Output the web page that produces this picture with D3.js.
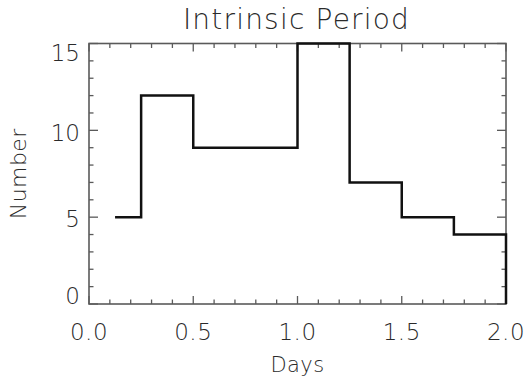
<!DOCTYPE html>
<html><head><meta charset="utf-8">
<script src="https://cdn.jsdelivr.net/npm/d3@7"></script>
<style>body{margin:0;background:#fff}svg{display:block}text{font-family:"DejaVu Sans",sans-serif;font-weight:200;fill:#2a2a2a}</style>
</head><body><svg id="c" width="525" height="380"></svg>
<script>
const binStart = [0.125, 0.25, 0.5, 0.75, 1.0, 1.25, 1.5, 1.75];
const binEnd   = [0.25, 0.5, 0.75, 1.0, 1.25, 1.5, 1.75, 2.0];
const counts   = [5, 12, 9, 9, 15, 7, 5, 4];
const xTicks = [0, 0.5, 1.0, 1.5, 2.0];
const xTickLabels = ["0.0", "0.5", "1.0", "1.5", "2.0"];
const yTicks = [0, 5, 10, 15];
const yTickLabels = ["0", "5", "10", "15"];
const title = "Intrinsic Period", xTitle = "Days", yTitle = "Number";

const L = 89, R = 506, T = 43.5, B = 304;
const svg = d3.select("#c");
const x = d3.scaleLinear().domain([0, 2]).range([L, R]);
const y = d3.scaleLinear().domain([0, 15]).range([B, T]);

const axisColor = "#5a5a5a";
const g = svg.append("g");
const xMinor = d3.range(0, 2.0001, 0.1);
const yMinor = d3.range(0, 15.0001, 1);
function isMajor(v, list){ return list.some(t => Math.abs(t - v) < 1e-6); }
xMinor.forEach(v => {
  const len = isMajor(v, xTicks) ? 8 : 4.5;
  g.append("line").attr("x1", x(v)).attr("x2", x(v)).attr("y1", B).attr("y2", B - len).attr("stroke", axisColor).attr("stroke-width", 1.3);
  g.append("line").attr("x1", x(v)).attr("x2", x(v)).attr("y1", T).attr("y2", T + len).attr("stroke", axisColor).attr("stroke-width", 1.3);
});
yMinor.forEach(v => {
  const len = isMajor(v, yTicks) ? 9 : 4.5;
  g.append("line").attr("y1", y(v)).attr("y2", y(v)).attr("x1", L).attr("x2", L + len).attr("stroke", axisColor).attr("stroke-width", 1.3);
  g.append("line").attr("y1", y(v)).attr("y2", y(v)).attr("x1", R).attr("x2", R - len).attr("stroke", axisColor).attr("stroke-width", 1.3);
});
g.append("rect").attr("x", L).attr("y", T).attr("width", R - L).attr("height", B - T)
  .attr("fill", "none").attr("stroke", axisColor).attr("stroke-width", 1.6);

xTicks.forEach((v, i) => {
  svg.append("text").attr("x", x(v)).attr("y", 340).attr("text-anchor", "middle")
    .attr("font-size", 23).attr("letter-spacing", 0.5).text(xTickLabels[i]);
});
yTicks.forEach((v, i) => {
  let cy = y(v) + 2;
  cy = Math.max(T + 9, Math.min(B - 8.5, cy));
  svg.append("text").attr("x", 80).attr("y", cy).attr("dy", "0.36em").attr("text-anchor", "end")
    .attr("font-size", 23).text(yTickLabels[i]);
});

const pts = [];
counts.forEach((c, i) => { pts.push([binStart[i], c]); pts.push([binEnd[i], c]); });
pts.push([binEnd[binEnd.length - 1], 0]);
svg.append("path").attr("d", d3.line().x(d => x(d[0])).y(d => y(d[1]))(pts))
  .attr("fill", "none").attr("stroke", "#111").attr("stroke-width", 2.5).attr("stroke-linejoin", "miter");

svg.append("text").attr("x", (L + R) / 2 - 1).attr("y", 29).attr("text-anchor", "middle")
  .attr("font-size", 28).attr("letter-spacing", 1.2).text(title);
svg.append("text").attr("x", (L + R) / 2).attr("y", 372).attr("text-anchor", "middle")
  .attr("font-size", 21).attr("letter-spacing", 0.4).text(xTitle);
svg.append("text").attr("transform", `translate(26,${(T + B) / 2}) rotate(-90)`).attr("text-anchor", "middle")
  .attr("font-size", 22).attr("letter-spacing", 0.4).text(yTitle);
</script></body></html>
